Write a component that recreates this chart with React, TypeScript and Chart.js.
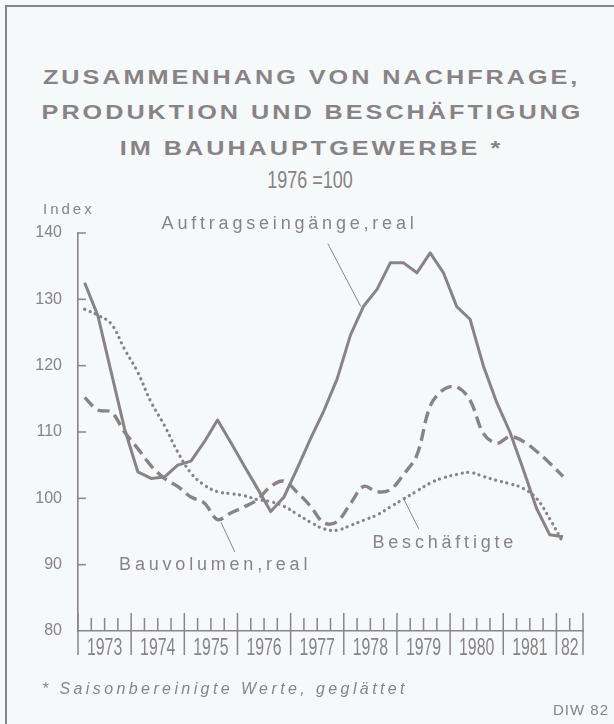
import React, { useEffect, useRef } from "react";
import { Chart, registerables } from "chart.js";

Chart.register(...registerables);

// ---- data ----
const yearLabels = ["1973", "1974", "1975", "1976", "1977", "1978", "1979", "1980", "1981", "82"];
const quartersPerYear = [4, 4, 4, 4, 4, 4, 4, 4, 4, 2];
const yTicks = [80, 90, 100, 110, 120, 130, 140];

// quarterly values, 1973 Q1 ... 1982 Q1
const auftragseingaenge = [
  132.5, 127.5, 119, 110.5, 104, 103, 103.2, 105, 105.6, 108.5,
  111.8, 108.4, 104.9, 101.5, 98, 100.2, 104.5, 109, 113.2, 118,
  124.6, 129, 131.5, 135.5, 135.5, 134, 137, 134, 128.9, 127,
  120, 114.5, 110, 104.4, 98.5, 94.5, 94.2,
];
const bauvolumen = [
  115.2, 113.3, 113, 110, 107.5, 104.9, 103, 101.8, 100.2, 99.3,
  96.8, 97.8, 98.7, 99.8, 101.8, 102.6, 100.9, 98.8, 96.3, 96.5,
  99.2, 101.8, 101, 101.3, 103.6, 106.5, 113.9, 116.4, 116.8, 114.8,
  109.8, 108.3, 109.3, 108.6, 107.1, 105.3, 103.3,
];
const beschaeftigte = [
  128.5, 127.6, 126.3, 122.5, 119, 114.5, 111, 107, 103.8, 102,
  101, 100.7, 100.4, 99.8, 99.5, 98.8, 97.6, 96.4, 95.4, 95.2,
  95.9, 96.7, 97.5, 98.7, 99.9, 101.1, 102.3, 103.1, 103.6, 103.9,
  103.3, 102.7, 102.2, 101.5, 100, 96.9, 93.3,
];

// quarter categories built from the year list
const quarterLabels: string[] = [];
const quarterYearIdx: number[] = [];
const quarterNum: number[] = [];
yearLabels.forEach((yl, yi) => {
  for (let q = 1; q <= quartersPerYear[yi]; q++) {
    quarterLabels.push(`${yl} Q${q}`);
    quarterYearIdx.push(yi);
    quarterNum.push(q);
  }
});

// ---- styles ----
const LINE = "#8a8385";
const TXT = "#898385";
const AX = "#8a8486";
const BG = "#f6f9fa";
const FIRST_YEAR = 1973;

const annotations = [
  { text: "Auftragseingänge,real", at: [1976.98, 141.3], from: [1977.7, 138.4], to: [1978.32, 128.9] },
  { text: "Bauvolumen,real", at: [1975.58, 90.0], from: [1975.69, 96.4], to: [1975.95, 91.9] },
  { text: "Beschäftigte", at: [1979.9, 93.3], from: [1979.11, 100.2], to: [1979.41, 95.4] },
];

const yearToIndex = (yr: number) => (yr - FIRST_YEAR) * 4 - 0.5;

const decor = {
  id: "decor",
  afterDraw(chart: any) {
    const { ctx, chartArea, scales } = chart;
    const x = scales.x;
    const y = scales.y;
    const axisY = chartArea.bottom;
    ctx.save();
    ctx.strokeStyle = AX;
    ctx.fillStyle = TXT;
    ctx.lineCap = "butt";

    // x-axis quarter ticks
    const n = quarterLabels.length;
    for (let i = 0; i <= n; i++) {
      const px = x.getPixelForValue(i - 0.5);
      const major = i === n || quarterNum[i] === 1;
      ctx.lineWidth = 1.5;
      ctx.beginPath();
      if (major) {
        ctx.moveTo(px, axisY - 18);
        ctx.lineTo(px, axisY + 24);
      } else {
        ctx.moveTo(px, axisY - 13);
        ctx.lineTo(px, axisY);
      }
      ctx.stroke();
    }

    // year labels (condensed)
    ctx.font = "24px 'Liberation Sans', Arial, sans-serif";
    ctx.textAlign = "center";
    ctx.textBaseline = "alphabetic";
    yearLabels.forEach((yl, yi) => {
      const idxs = quarterYearIdx.map((v, k) => (v === yi ? k : -1)).filter((k) => k >= 0);
      const a = x.getPixelForValue(idxs[0] - 0.5);
      const b = x.getPixelForValue(idxs[idxs.length - 1] + 0.5);
      ctx.save();
      ctx.translate((a + b) / 2, axisY + 24);
      ctx.scale(0.66, 1);
      ctx.fillText(yl, 0, 0);
      ctx.restore();
    });

    // y ticks
    ctx.lineWidth = 1.5;
    yTicks.forEach((v) => {
      if (v === yTicks[0]) return;
      const py = y.getPixelForValue(v);
      ctx.beginPath();
      ctx.moveTo(chartArea.left - 1, py);
      ctx.lineTo(chartArea.left + 8, py);
      ctx.stroke();
    });

    // "Index"
    ctx.textAlign = "left";
    ctx.textBaseline = "middle";
    ctx.font = "15px 'Liberation Sans', Arial, sans-serif";
    (ctx as any).letterSpacing = "3px";
    ctx.fillText("Index", chartArea.left - 35, y.getPixelForValue(yTicks[yTicks.length - 1]) - 23);

    // series annotations
    ctx.font = "18px 'Liberation Sans', Arial, sans-serif";
    (ctx as any).letterSpacing = "3.8px";
    ctx.textAlign = "center";
    ctx.lineWidth = 1;
    annotations.forEach((a) => {
      ctx.fillText(a.text, x.getPixelForValue(yearToIndex(a.at[0])), y.getPixelForValue(a.at[1]));
      ctx.beginPath();
      ctx.moveTo(x.getPixelForValue(yearToIndex(a.from[0])), y.getPixelForValue(a.from[1]));
      ctx.lineTo(x.getPixelForValue(yearToIndex(a.to[0])), y.getPixelForValue(a.to[1]));
      ctx.stroke();
    });
    ctx.restore();
  },
};

export default function App() {
  const ref = useRef<HTMLCanvasElement | null>(null);

  useEffect(() => {
    if (!ref.current) return;
    const chart = new Chart(ref.current, {
      type: "line",
      data: {
        labels: quarterLabels,
        datasets: [
          {
            label: "Auftragseingänge, real",
            data: auftragseingaenge,
            borderColor: LINE,
            borderWidth: 3,
            pointRadius: 0,
            tension: 0,
            fill: false,
            borderJoinStyle: "round",
          },
          {
            label: "Bauvolumen, real",
            data: bauvolumen,
            borderColor: LINE,
            borderWidth: 3.4,
            borderDash: [12, 6],
            pointRadius: 0,
            tension: 0.35,
            fill: false,
          },
          {
            label: "Beschäftigte",
            data: beschaeftigte,
            borderColor: LINE,
            borderWidth: 3.2,
            borderDash: [0.1, 5.7],
            borderCapStyle: "round",
            pointRadius: 0,
            tension: 0.4,
            fill: false,
          },
        ],
      },
      options: {
        animation: false,
        responsive: false,
        maintainAspectRatio: false,
        layout: { padding: { top: 233, right: 31, left: 0, bottom: 0 } },
        plugins: { legend: { display: false }, tooltip: { enabled: false } },
        scales: {
          x: {
            type: "category",
            offset: true,
            grid: { display: false },
            border: { display: true, color: AX, width: 1.6 },
            ticks: { display: false },
            afterFit: (s: any) => {
              s.height = 93;
            },
          },
          y: {
            min: 80,
            max: 140,
            afterBuildTicks: (s: any) => {
              s.ticks = yTicks.map((v) => ({ value: v }));
            },
            grid: { display: false },
            border: { display: true, color: AX, width: 1.6 },
            ticks: {
              color: TXT,
              font: { family: "'Liberation Sans', Arial, sans-serif", size: 16 },
              padding: 8,
            },
            afterFit: (s: any) => {
              s.width = 78;
            },
          },
        },
      } as any,
      plugins: [decor],
    });
    return () => chart.destroy();
  }, []);

  const titleStyle: React.CSSProperties = {
    position: "absolute",
    left: 7,
    right: 0,
    textAlign: "center",
    fontFamily: "'Liberation Sans', Arial, sans-serif",
    fontWeight: "bold",
    fontSize: 21,
    color: TXT,
    height: 26,
    lineHeight: "26px",
    whiteSpace: "nowrap",
  };
  const titleSpan: React.CSSProperties = {
    display: "inline-block",
    transform: "scaleX(1.2)",
    letterSpacing: "2.5px",
    paddingLeft: 2.5,
  };

  return (
    <div
      style={{
        position: "absolute",
        left: 0,
        top: 0,
        width: 614,
        height: 724,
        background: BG,
        overflow: "hidden",
      }}
    >
      <div
        style={{
          position: "absolute",
          left: 5,
          top: 5,
          right: 0,
          bottom: 0,
          borderLeft: `2px solid ${AX}`,
          borderTop: `2px solid ${AX}`,
        }}
      />
      <div style={{ ...titleStyle, top: 77 - 13 }}>
        <span style={titleSpan}>ZUSAMMENHANG VON NACHFRAGE,</span>
      </div>
      <div style={{ ...titleStyle, top: 112 - 13 }}>
        <span style={titleSpan}>PRODUKTION UND BESCHÄFTIGUNG</span>
      </div>
      <div style={{ ...titleStyle, top: 148 - 13 }}>
        <span style={titleSpan}>IM BAUHAUPTGEWERBE *</span>
      </div>
      <div
        style={{
          position: "absolute",
          left: 7,
          right: 0,
          top: 180 - 14,
          height: 28,
          lineHeight: "28px",
          textAlign: "center",
          color: TXT,
          fontFamily: "'Liberation Sans', Arial, sans-serif",
          fontSize: 24,
        }}
      >
        <span style={{ display: "inline-block", transform: "scaleX(0.75)" }}>1976 =100</span>
      </div>
      <canvas
        ref={ref}
        width={614}
        height={724}
        style={{ position: "absolute", left: 0, top: 0, width: 614, height: 724 }}
      />
      <div
        style={{
          position: "absolute",
          left: 42,
          top: 689 - 10,
          height: 20,
          lineHeight: "20px",
          color: TXT,
          fontFamily: "'Liberation Sans', Arial, sans-serif",
          fontStyle: "italic",
          fontSize: 16,
          letterSpacing: "3.4px",
          whiteSpace: "nowrap",
        }}
      >
        * Saisonbereinigte Werte, geglättet
      </div>
      <div
        style={{
          position: "absolute",
          right: 5,
          top: 710 - 10,
          height: 20,
          lineHeight: "20px",
          color: TXT,
          fontFamily: "'Liberation Sans', Arial, sans-serif",
          fontSize: 15,
          letterSpacing: "1px",
          whiteSpace: "nowrap",
        }}
      >
        DIW 82
      </div>
    </div>
  );
}
